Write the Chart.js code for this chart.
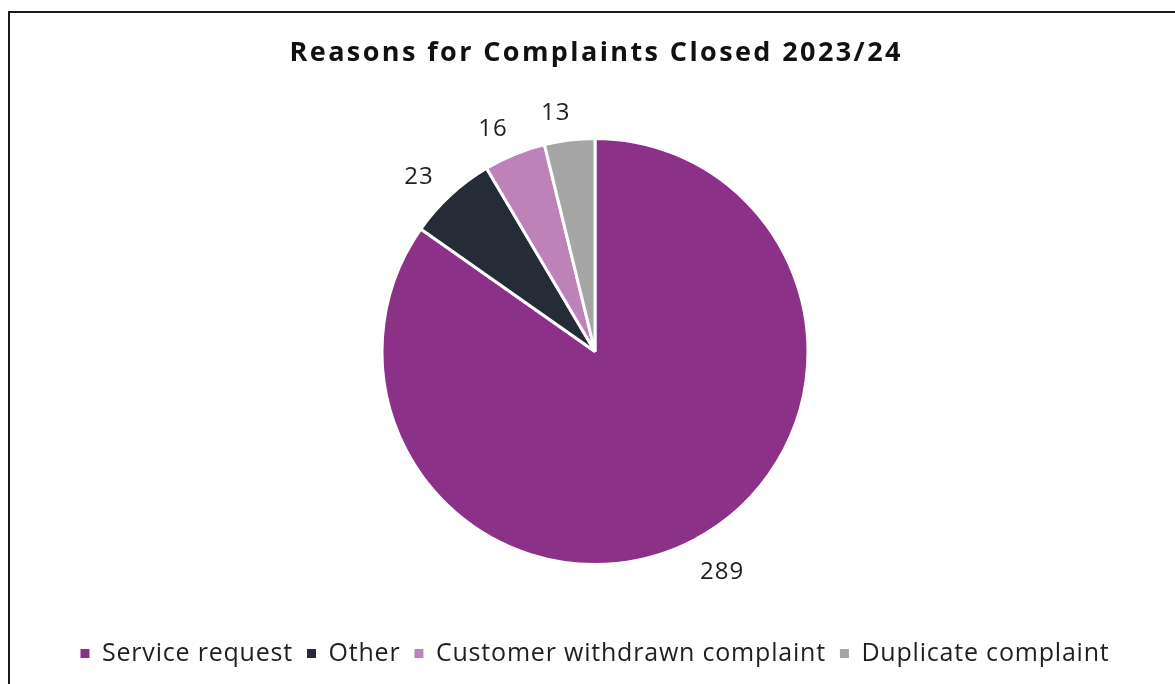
<!DOCTYPE html>
<html>
<head>
<meta charset="utf-8">
<title>Reasons for Complaints Closed 2023/24</title>
<script src="https://cdn.jsdelivr.net/npm/chart.js@4/dist/chart.umd.min.js"></script>
<style>
  html, body { margin: 0; padding: 0; background: #ffffff; }
  #wrap { width: 1175px; height: 684px; position: relative; }
</style>
</head>
<body>
<div id="wrap"><canvas id="chart"></canvas></div>
<script>
const categories = ['Service request', 'Other', 'Customer withdrawn complaint', 'Duplicate complaint'];
const closedCounts = [289, 23, 16, 13];
const sliceColours = ['#8C3188', '#262B38', '#BD83B9', '#A5A5A5'];
const chartTitle = 'Reasons for Complaints Closed 2023/24';

const FONT = '"Open Sans", "Liberation Sans", sans-serif';
const LEGEND_SPACING = '0.8px';

// Thin dark frame around the chart panel
const framePlugin = {
  id: 'frame',
  beforeDraw(chart) {
    const ctx = chart.ctx;
    ctx.save();
    ctx.strokeStyle = '#1a1a1a';
    ctx.lineWidth = 2;
    ctx.beginPath();
    ctx.moveTo(9, chart.height + 2);
    ctx.lineTo(9, 12);
    ctx.lineTo(chart.width + 2, 12);
    ctx.stroke();
    ctx.restore();
  }
};

// Slightly tracked text for the legend (measured and drawn with the same spacing)
const trackingPlugin = {
  id: 'tracking',
  beforeLayout(chart) { chart.ctx.letterSpacing = LEGEND_SPACING; },
  beforeDraw(chart) { chart.ctx.letterSpacing = LEGEND_SPACING; }
};

// Bold heading above the pie
const headingPlugin = {
  id: 'heading',
  afterDraw(chart) {
    const ctx = chart.ctx;
    const area = chart.chartArea;
    ctx.save();
    ctx.letterSpacing = '2.4px';
    ctx.font = 'bold 27px ' + FONT;
    ctx.fillStyle = '#111111';
    ctx.textAlign = 'center';
    ctx.textBaseline = 'alphabetic';
    ctx.fillText(chartTitle, (area.left + area.right) / 2 + 1.2, 61);
    ctx.restore();
  }
};

// Value labels placed just outside each slice
const outsideLabels = {
  id: 'outsideLabels',
  afterDatasetsDraw(chart) {
    const ctx = chart.ctx;
    const meta = chart.getDatasetMeta(0);
    const values = chart.data.datasets[0].data;
    ctx.save();
    ctx.letterSpacing = '1px';
    ctx.font = '24px ' + FONT;
    ctx.fillStyle = '#1f1f1f';
    ctx.textAlign = 'center';
    ctx.textBaseline = 'middle';
    meta.data.forEach((arc, i) => {
      const p = arc.getProps(['x', 'y', 'startAngle', 'endAngle', 'outerRadius'], true);
      const mid = (p.startAngle + p.endAngle) / 2 - 2.5 * Math.PI / 180;
      const text = String(values[i]);
      const w = ctx.measureText(text).width;
      const dx = Math.cos(mid), dy = Math.sin(mid);
      const half = Math.abs(dx) * w / 2 + Math.abs(dy) * 9 + dy * 3;
      const r = p.outerRadius + 20 + half;
      ctx.fillText(text, p.x + dx * r, p.y + dy * r);
    });
    ctx.restore();
  }
};

new Chart(document.getElementById('chart'), {
  type: 'pie',
  data: {
    labels: categories,
    datasets: [{
      data: closedCounts,
      backgroundColor: sliceColours,
      borderColor: '#ffffff',
      borderWidth: 3,
      radius: 213
    }]
  },
  options: {
    responsive: true,
    maintainAspectRatio: false,
    animation: false,
    layout: { padding: { top: 76, left: 22, right: 7, bottom: 8 } },
    plugins: {
      title: { display: false },
      legend: {
        position: 'bottom',
        labels: {
          color: '#1f1f1f',
          font: { family: FONT, size: 25 },
          usePointStyle: true,
          pointStyle: 'rect',
          boxWidth: 9,
          boxHeight: 9,
          padding: 14,
          generateLabels(chart) {
            const items = Chart.overrides.pie.plugins.legend.labels.generateLabels(chart);
            items.forEach(item => { item.lineWidth = 0; item.strokeStyle = item.fillStyle; });
            return items;
          }
        }
      },
      tooltip: { enabled: false }
    }
  },
  plugins: [framePlugin, trackingPlugin, headingPlugin, outsideLabels]
});
</script>
</body>
</html>
